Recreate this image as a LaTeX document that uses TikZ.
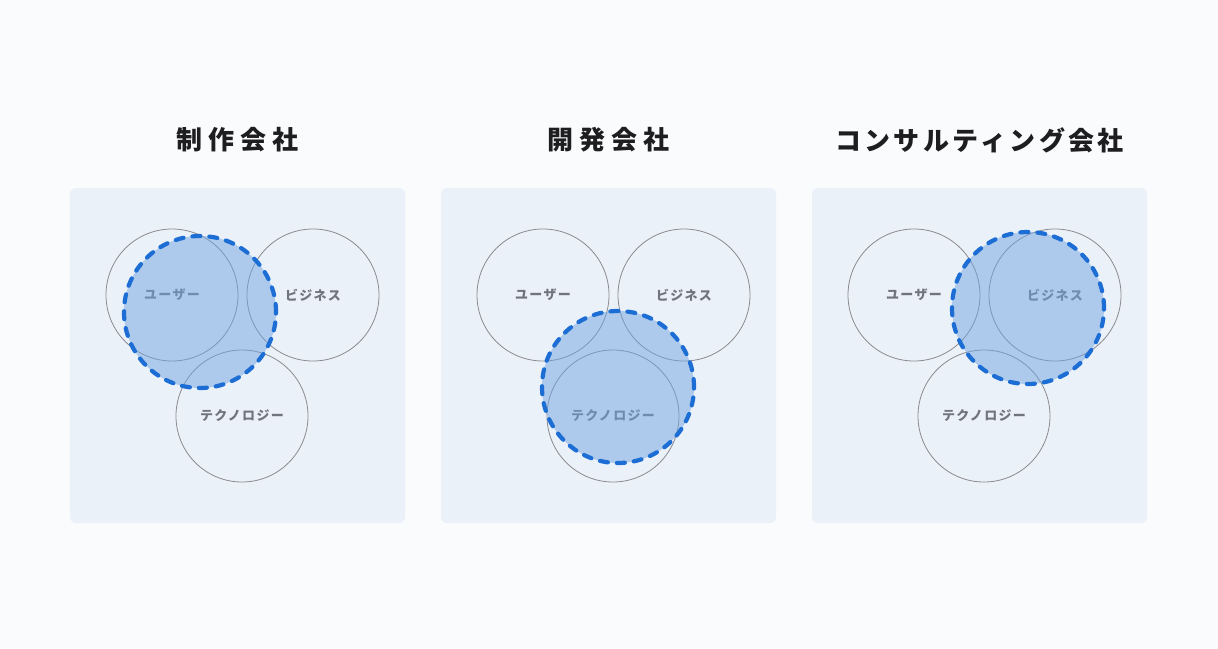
\documentclass[tikz,border=0pt]{standalone}
\usepackage{fontspec}
\newfontfamily\jpfont{Noto Sans CJK JP}
\definecolor{pagebg}{RGB}{249,251,253}
\definecolor{panelbg}{RGB}{235,241,249}
\definecolor{ringgray}{RGB}{138,138,142}
\definecolor{labelgray}{RGB}{112,116,124}
\definecolor{selblue}{RGB}{113,163,223}
\definecolor{dashblue}{RGB}{28,110,212}
\definecolor{titleblack}{RGB}{30,30,32}
\begin{document}
\begin{tikzpicture}[x=1pt,y=-1pt,
  panel/.style={fill=panelbg, rounded corners=6pt},
  venn/.style={circle, draw=ringgray, line width=0.8pt, minimum size=132pt, inner sep=0pt,
    font=\jpfont\bfseries\fontsize{13pt}{15pt}\selectfont\addfontfeatures{LetterSpace=10}, text=labelgray},
  selfill/.style={circle, fill=selblue, fill opacity=0.5, minimum size=152pt, inner sep=0pt},
  selring/.style={circle, draw=dashblue, line width=4.2pt, dash pattern=on 8pt off 9pt, line cap=round, minimum size=152pt, inner sep=0pt},
  titlestyle/.style={text=titleblack, inner sep=0pt}]
\useasboundingbox[fill=pagebg] (0,0) rectangle (1218,648);
% titles
\node[titlestyle, font=\jpfont\bfseries\fontsize{26pt}{30pt}\selectfont\addfontfeatures{LetterSpace=24}] (t1) at (237.5,140) {制作会社};
\node[titlestyle, font=\jpfont\bfseries\fontsize{26pt}{30pt}\selectfont\addfontfeatures{LetterSpace=24}] (t2) at (608.5,140) {開発会社};
\node[titlestyle, font=\jpfont\bfseries\fontsize{26pt}{30pt}\selectfont\addfontfeatures{LetterSpace=13}] (t3) at (979.5,140) {コンサルティング会社};
% panels
\fill[panel] (70,188) rectangle (405,523);
\fill[panel] (441,188) rectangle (776,523);
\fill[panel] (812,188) rectangle (1147,523);
% panel 1
\node[venn] (p1u) at (172,295) {ユーザー};
\node[venn] (p1b) at (313,295) {ビジネス};
\node[venn] (p1t) at (242,416) {テクノロジー};
\node[selfill] (p1f) at (200,312) {};
\node[selring] (p1s) at (200,312) {};
% panel 2
\node[venn] (p2u) at (543,295) {ユーザー};
\node[venn] (p2b) at (684,295) {ビジネス};
\node[venn] (p2t) at (613,416) {テクノロジー};
\node[selfill] (p2f) at (618,387) {};
\node[selring] (p2s) at (618,387) {};
% panel 3
\node[venn] (p3u) at (914,295) {ユーザー};
\node[venn] (p3b) at (1055,295) {ビジネス};
\node[venn] (p3t) at (984,416) {テクノロジー};
\node[selfill] (p3f) at (1028,308) {};
\node[selring] (p3s) at (1028,308) {};
\end{tikzpicture}
\end{document}
